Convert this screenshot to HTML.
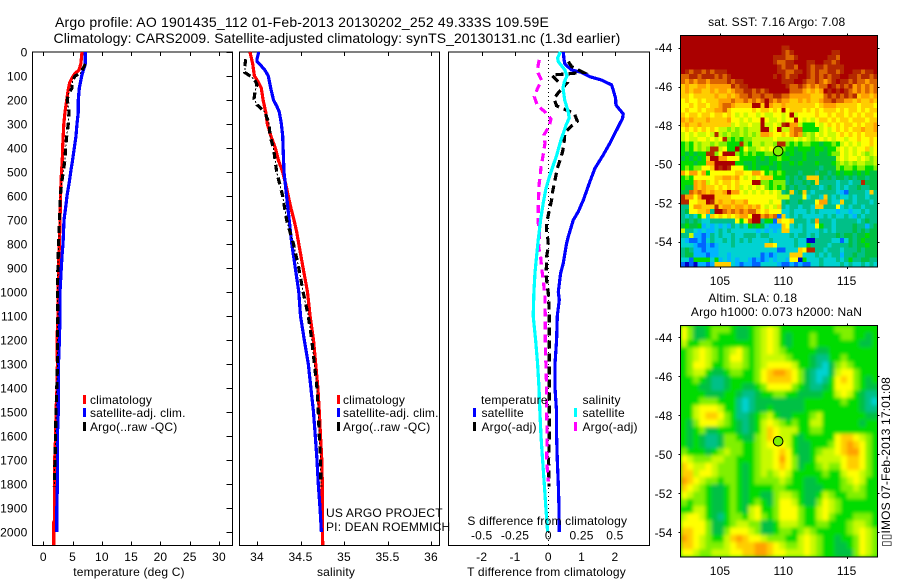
<!DOCTYPE html>
<html lang="en">
<head>
<meta charset="utf-8">
<title>Argo profile 1901435_112</title>
<style>
html,body{margin:0;padding:0;background:#fff;width:900px;height:580px;overflow:hidden}
svg{display:block;font-family:"Liberation Sans",sans-serif}
text{fill:#000;letter-spacing:.18px}
</style>
</head>
<body>
<svg id="chart" xmlns="http://www.w3.org/2000/svg" width="900" height="580" viewBox="0 0 900 580">
  <defs>
    <clipPath id="clip-sst"><rect x="680.5" y="35.5" width="197" height="231.5"/></clipPath>
    <clipPath id="clip-sla"><rect x="680.5" y="325.5" width="197" height="231.5"/></clipPath>
    <filter id="soften" x="-5%" y="-5%" width="110%" height="110%"><feGaussianBlur stdDeviation="1.8"/></filter>
  </defs>
  <text x="55" y="27" font-size="14" textLength="494">Argo profile: AO 1901435_112 01-Feb-2013 20130202_252 49.333S 109.59E</text>
  <text x="53.5" y="43" font-size="14" textLength="567">Climatology: CARS2009. Satellite-adjusted climatology: synTS_20130131.nc (1.3d earlier)</text>
  <g id="layer-sst" clip-path="url(#clip-sst)"></g>
  <g clip-path="url(#clip-sla)">
    <rect x="680" y="325" width="198" height="232" fill="#00d800"/>
    <g id="layer-sla" filter="url(#soften)"></g>
  </g>
  <g id="layer-axes"></g>
  <g id="layer-lines"></g>
  <g id="layer-text"></g>
</svg>
<script>
// ---- tick values ----
var depthTicks = [0,100,200,300,400,500,600,700,800,900,1000,1100,1200,1300,1400,1500,1600,1700,1800,1900,2000];
var tempTicks = [0,5,10,15,20,25,30];
var salTicks = [34,34.5,35,35.5,36];
var salTickLabels = ['34','34.5','35','35.5','36'];
var tDiffTicks = [-2,-1,0,1,2];
var sDiffTicks = [-0.5,-0.25,0,0.25,0.5];
var sDiffTickLabels = ['-0.5','-0.25','0','0.25','0.5'];
var lonTicks = [105,110,115];
var latTicks = [-44,-46,-48,-50,-52,-54];

// ---- temperature panel ----
var tempClimDepth = [0,50,75,90,100,125,150,175,200,250,300,350,400,450,500,550,600,700,800,900,1000,1100,1200,1300,1400,1500,1600,1700,1800,1950,1960,2054];
var tempClimVal = [6.6,6.4,6.1,5.4,5.1,4.55,4.3,4.15,4.0,3.7,3.5,3.4,3.3,3.25,3.1,3.0,2.95,2.85,2.75,2.6,2.56,2.5,2.34,2.4,2.34,2.17,2.1,1.94,1.94,1.94,1.77,1.77];
var tempSatDepth = [0,50,75,100,150,200,250,300,350,400,450,500,550,600,650,700,800,850,900,1000,1100,1200,1300,1400,1500,1600,1700,1800,1900,2000];
var tempSatVal = [7.17,7.17,6.84,6.55,6.15,5.98,5.98,5.75,5.58,5.3,5.0,4.68,4.39,4.05,3.8,3.53,3.36,3.2,3.07,2.85,2.85,2.75,2.6,2.56,2.56,2.4,2.4,2.4,2.3,2.3];
var tempArgoDepth = [50,90,100,125,150,175,200,250,300,350,400,450,500,550,600,700,800,900,1000,1100,1200,1300,1400,1500,1600,1700,1810];
var tempArgoVal = [7.17,6.3,5.4,4.95,4.9,4.27,4.1,4.39,4.27,4.0,3.8,3.68,3.4,3.1,2.9,2.75,2.6,2.5,2.4,2.5,2.4,2.4,2.3,2.17,2.1,2.0,1.87];

// ---- salinity panel ----
var salClimDepth = [0,50,100,125,150,200,250,300,350,400,450,500,550,600,650,700,750,800,900,1000,1100,1200,1300,1400,1500,1600,1700,1800,1900,2054];
var salClimVal = [33.92,33.95,33.97,34.015,34.05,34.07,34.1,34.12,34.16,34.21,34.245,34.295,34.33,34.36,34.39,34.425,34.456,34.48,34.53,34.58,34.61,34.65,34.675,34.7,34.716,34.73,34.745,34.75,34.75,34.755];
var salSatDepth = [0,30,40,50,75,100,150,200,225,250,300,350,400,500,600,700,800,900,1000,1100,1200,1300,1400,1500,1600,1700,1800,1900,2000];
var salSatVal = [34.02,34.0,34.0,34.03,34.09,34.13,34.157,34.19,34.226,34.256,34.28,34.295,34.3,34.31,34.34,34.37,34.4,34.44,34.48,34.5,34.544,34.59,34.62,34.65,34.67,34.69,34.705,34.724,34.74];
var salArgoDepth = [30,60,85,100,115,135,160,195,220,250,300,350,400,500,600,700,800,900,1000,1100,1200,1300,1400,1500,1600,1700,1810];
var salArgoVal = [33.87,33.86,33.86,33.92,33.97,34.0,33.98,33.965,34.0,34.09,34.14,34.15,34.19,34.226,34.295,34.34,34.42,34.48,34.53,34.59,34.63,34.66,34.69,34.705,34.716,34.73,34.735];

// ---- difference panel ----
var dtSatDepth = [0,30,50,75,85,103,117,137,158,193,221,258,276,325,380,429,485,540,617,665,700,769,797,880,922,1000,1033,1100,1200,1300,1400,1500,1600,1700,1800,1900,2000];
var dtSatVal = [0.45,0.47,0.5,0.7,1.0,1.25,1.6,1.9,1.95,2.02,2.03,2.25,2.23,2.05,1.85,1.65,1.4,1.25,1.05,0.9,0.75,0.6,0.55,0.45,0.37,0.3,0.33,0.27,0.25,0.2,0.2,0.25,0.25,0.27,0.3,0.32,0.33];
var dtArgoDepth = [40,61,85,92,96,124,131,165,193,224,242,256,288,314,336,381,415,450,485,513,547,582,617,658,679,714,749,783,811,853,881,922,950,985,1006,1061,1100,1300,1500,1600,1700,1810];
var dtArgoVal = [0.6,0.7,1.05,0.5,0.1,0.3,0.55,0.33,0.17,0.25,0.55,0.78,0.87,0.65,0.5,0.47,0.43,0.35,0.27,0.23,0.18,0.13,0.1,0.03,0,-0.05,-0.05,-0.01,0,-0.05,-0.05,-0.07,-0.05,-0.02,0,0.02,0.03,0.03,0.03,0.03,0.01,0.02];
var dsSatDepth = [0,25,40,75,100,125,150,200,250,275,300,330,370,430,470,520,570,630,700,780,850,920,1000,1100,1200,1300,1400,1500,1600,1700,1800,1900,2000];
var dsSatVal = [0.09,0.07,0.075,0.125,0.14,0.12,0.11,0.123,0.15,0.157,0.137,0.118,0.093,0.063,0.038,0.008,-0.018,-0.038,-0.058,-0.075,-0.088,-0.1,-0.108,-0.113,-0.095,-0.08,-0.07,-0.063,-0.055,-0.043,-0.03,-0.018,-0.005];
var dsArgoDepth = [33,68,89,117,151,186,221,251,279,311,346,381,408,443,478,513,547,603,644,714,769,811,853,908,950,1019,1100,1200,1300,1400,1500,1600,1700,1790];
var dsArgoVal = [-0.068,-0.08,-0.075,-0.05,-0.08,-0.105,-0.083,-0.023,0.02,0.005,-0.033,-0.025,-0.033,-0.043,-0.055,-0.06,-0.068,-0.073,-0.075,-0.075,-0.065,-0.073,-0.058,-0.048,-0.038,-0.025,-0.023,-0.023,-0.018,-0.013,-0.013,-0.008,-0.013,0];

// ---- marker position (lon, lat) ----
var argoLon = [109.59];
var argoLat = [-49.33];
var argoLevel = [7];

// ---- SST map: colour level per grid cell, north to south ----
var sstRows = [
[14,14,14,14,14,14,14,14,14,14, 14,14,14,14,14,14,14,14,14,14, 14,14,14,14,14,14,14,14,14,14, 14,14,14,14,14,14,14,14,14,14, 14,14,14,14,14,14,14],
[14,14,14,14,14,14,14,14,14,14, 14,14,14,14,14,14,14,14,14,14, 14,14,14,14,14,14,14,14,14,14, 14,14,14,14,14,14,14,14,14,14, 14,14,14,14,14,14,14],
[14,14,14,14,14,14,14,14,14,14, 14,14,14,14,14,14,14,14,14,14, 14,14,14,14,13,13,14,14,14,14, 14,14,14,14,14,14,14,14,14,14, 14,14,14,14,14,14,14],
[14,14,14,14,14,14,14,14,14,14, 14,14,14,14,14,14,14,14,14,14, 14,14,14,14,13,12,13,14,14,14, 14,14,14,14,14,14,13,13,14,14, 14,14,14,14,14,14,14],
[14,14,14,14,14,14,14,14,14,14, 14,14,14,14,14,14,14,14,14,14, 14,14,13,13,13,12,12,13,14,14, 14,14,14,14,14,13,13,12,14,14, 14,14,14,14,14,14,14],
[14,14,14,14,14,14,14,14,14,14, 14,14,14,14,14,14,14,14,14,14, 14,14,13,12,12,13,13,14,14,14, 13,13,14,14,13,13,12,13,14,14, 14,14,14,14,14,14,14],
[14,14,14,14,14,14,14,14,14,14, 14,14,14,14,14,14,14,14,14,14, 14,14,14,13,12,13,13,12,14,14, 13,12,13,13,12,13,13,13,13,14, 14,14,14,14,14,14,14],
[14,13,12,13,13,12,13,12,13,13, 13,14,14,14,14,14,14,14,14,14, 14,14,14,13,13,12,12,13,13,14, 13,12,13,12,12,13,13,12,13,14, 14,13,13,12,13,13,14],
[12,12,13,13,12,13,13,13,12,13, 12,13,14,14,14,14,14,14,14,14, 14,14,13,14,13,12,13,13,14,14, 13,12,13,12,13,12,13,13,14,14, 13,13,12,13,13,12,13],
[12,11,12,11,12,12,11,12,12,12, 12,13,12,13,13,14,14,14,14,14, 14,14,14,14,13,13,13,14,14,13, 12,12,13,12,11,12,13,14,13,13, 12,13,12,12,11,12,12],
[10,11,10,10,11,11,10,11,11,11, 11,11,13,12,13,13,14,14,14,14, 14,14,14,14,14,13,12,12,13,12, 11,12,11,12,12,14,13,12,13,12, 13,11,12,11,12,11,12],
[10,11,10,11,11,10,10,11,10,11, 11,10,11,12,12,13,13,12,13,12, 13,14,14,14,14,14,12,12,12,11, 10,11,10,11,14,13,14,13,14,13, 12,11,12,11,12,11,12],
[10,10,9,10,10,10,10,10,11,10, 10,11,10,11,12,12,13,12,12,13, 12,12,13,13,12,12,11,11,11,11, 11,10,10,10,12,13,12,13,12,13, 12,13,10,11,11,10,11],
[9,10,9,9,10,9,10,10,10,11, 11,11,12,11,11,12,11,12,11,12, 14,12,11,12,11,11,10,10,11,10, 11,10,10,11,12,12,13,12,12,11, 11,10,11,10,10,11,10],
[9,9,10,9,10,10,9,10,10,11, 12,12,11,10,10,10,10,14,14,10, 14,11,10,10,11,10,10,10,10,10, 10,10,9,10,11,11,11,10,10,10, 10,10,9,10,10,10,9],
[9,10,9,9,10,9,10,10,11,11, 12,10,9,9,9,9,9,10,9,10, 10,9,10,9,14,9,10,10,10,9, 10,9,10,9,10,10,10,9,10,9, 10,10,9,10,9,10,10],
[10,9,10,10,9,10,10,9,10,10, 9,10,9,8,9,8,9,9,8,9, 8,8,9,9,8,9,14,8,9,9, 9,9,10,9,9,10,9,10,10,9, 10,9,10,9,10,10,9],
[11,10,11,10,10,10,11,10,10,10, 10,11,9,9,8,9,8,9,9,14, 9,8,8,9,8,9,9,14,9,8, 9,8,9,10,10,9,10,9,10,10, 9,10,10,10,9,10,10],
[10,11,10,10,11,10,10,10,10,10, 10,10,8,9,8,8,9,8,8,14, 8,8,9,8,13,14,11,11,8,6, 6,6,9,8,9,10,9,10,9,10, 10,9,10,9,10,10,11],
[9,10,9,10,9,10,9,10,9,8, 8,7,8,7,8,7,8,8,8,14, 14,8,9,14,8,8,11,12,12,6, 6,6,6,8,9,8,9,10,9,10, 9,10,10,11,10,10,11],
[8,9,8,9,8,8,9,8,13,8, 7,8,7,7,8,7,8,7,8,11, 11,10,9,9,10,9,11,12,11,7, 8,7,9,8,9,8,8,9,10,9, 10,9,10,9,10,10,10],
[8,9,8,8,9,9,8,9,8,9, 13,7,6,7,6,7,7,8,8,8, 8,8,9,8,8,8,8,9,8,9, 8,7,8,9,8,9,8,9,9,8, 9,9,10,9,9,10,9],
[6,7,6,8,7,8,8,7,8,7, 7,6,6,6,13,7,6,8,8,7, 8,8,7,13,13,7,6,7,6,7, 7,6,6,5,6,6,7,6,8,9, 8,9,8,9,9,10,9],
[6,7,6,8,7,8,7,13,13,8, 9,6,6,14,6,9,7,7,8,9, 8,9,8,8,7,6,6,5,6,6, 6,5,6,6,5,6,6,8,9,8, 9,8,9,9,10,8,9],
[6,5,6,5,6,6,13,13,7,9, 14,14,14,7,6,7,6,7,6,6, 7,7,6,7,6,5,6,5,5,6, 5,5,6,5,5,6,7,7,9,8, 9,8,9,8,7,8,9],
[5,6,5,6,5,6,10,14,14,11, 11,9,9,9,6,6,6,6,5,6, 5,6,6,7,6,6,5,5,5,6, 5,5,5,5,5,5,5,8,9,8, 9,9,8,9,8,7,8],
[6,6,6,5,6,6,11,11,14,14, 14,14,14,6,6,5,5,6,5,5, 5,6,5,6,5,5,6,5,6,5, 5,5,6,5,5,5,6,7,8,7, 8,7,8,8,7,7,8],
[6,7,6,7,7,9,9,10,14,13, 14,13,9,9,9,6,5,6,5,6, 6,5,5,6,5,5,5,5,5,5, 5,5,5,4,5,5,5,7,6,7, 7,6,7,7,6,6,7],
[11,9,11,11,9,11,6,9,9,9, 9,9,9,10,10,9,9,11,11,9, 6,7,6,7,6,5,5,5,4,5, 5,5,4,5,5,4,5,6,5,6, 6,5,6,5,6,5,5],
[6,7,6,9,9,9,9,9,10,10, 11,11,10,11,9,8,9,8,9,10, 10,10,6,6,6,4,5,4,5,4, 10,10,10,5,4,5,4,5,5,4, 5,4,5,5,4,5,5],
[6,6,6,11,10,11,8,9,10,9, 10,10,9,10,9,9,9,14,14,7, 7,6,7,7,7,4,5,4,4,5, 4,5,10,4,4,4,4,3,4,4, 3,4,4,13,5,5,5],
[6,5,5,11,10,11,10,10,9,10, 9,10,9,10,8,9,8,9,8,9, 7,6,7,6,7,5,4,5,4,4, 5,4,4,3,4,5,4,3,4,3, 4,4,5,4,4,5,5],
[5,5,12,11,12,11,10,11,10,10, 11,14,11,11,9,8,9,8,9,8, 9,8,9,8,4,5,10,4,5,10, 4,3,4,4,4,4,4,3,2,1, 4,4,4,4,3,10,4],
[13,11,11,9,11,14,14,14,10,10, 10,10,9,9,9,9,9,9,9,9, 9,9,9,8,8,8,4,4,4,9, 3,4,4,3,10,4,3,4,3,3, 4,3,4,4,3,4,4],
[13,13,9,9,10,10,14,13,10,11, 10,10,11,10,10,11,9,9,9,9, 9,8,9,9,4,5,4,4,5,4, 4,4,9,11,11,4,3,3,10,4, 4,3,4,4,4,3,4],
[4,4,9,11,11,10,10,10,13,10, 11,11,10,11,11,10,11,10,11,9, 8,9,8,10,4,3,4,4,3,4, 4,3,10,10,4,4,4,9,3,4, 3,4,4,3,4,4,4],
[4,5,9,9,10,10,11,4,14,14, 12,11,12,11,12,11,12,12,10,9, 10,9,9,9,3,3,4,3,3,3, 4,3,4,3,3,3,3,2,3,3, 2,3,3,4,3,4,4],
[4,3,4,3,6,9,3,10,9,10, 9,10,9,10,11,11,9,14,14,11, 12,11,12,1,10,3,4,3,4,3, 3,3,3,3,4,3,4,3,3,4, 3,2,4,3,4,4,4],
[4,5,4,5,4,3,3,4,4,4, 4,4,4,9,6,9,12,14,14,4, 6,6,1,10,9,9,10,4,4,4, 3,4,11,4,4,4,3,4,4,4, 4,4,3,4,5,4,4],
[5,6,5,5,6,2,3,2,3,2, 3,2,4,3,4,3,6,5,6,5, 3,2,2,2,10,9,3,4,3,4, 3,3,9,6,4,4,3,4,4,4, 4,5,4,4,2,4,5],
[8,4,4,3,2,3,2,2,3,4, 3,4,3,3,3,3,3,3,2,3, 2,3,2,3,10,10,3,3,3,4, 3,3,3,4,3,4,3,4,4,4, 4,5,4,5,4,5,5],
[4,4,8,2,2,1,2,4,3,4, 3,3,4,3,3,4,4,4,3,4, 4,3,3,3,3,3,4,3,4,4, 3,4,3,4,4,4,4,5,4,5, 5,4,5,5,6,5,5],
[3,2,1,1,2,1,3,4,3,3, 4,3,4,3,4,3,4,3,3,3, 3,4,3,3,3,3,3,4,3,3, 0,0,4,4,4,4,3,3,1,3, 5,4,5,6,5,5,5],
[3,3,3,2,1,1,2,1,2,3, 3,3,4,3,3,3,3,3,3,3, 10,10,9,3,3,3,3,4,3,3, 6,4,4,4,4,3,4,4,4,4, 5,4,5,5,6,5,5],
[4,5,4,2,2,1,2,2,2,3, 3,3,3,3,3,3,3,3,3,3, 3,3,3,1,1,3,3,3,10,9, 13,13,4,4,3,4,4,4,3,4, 4,4,5,4,5,5,5],
[4,5,5,2,2,2,1,2,2,3, 3,2,3,3,3,3,3,3,3,1, 2,1,2,3,3,3,10,10,10,3, 3,3,4,3,4,3,4,4,2,4, 4,5,4,4,5,5,5],
[3,3,1,6,6,6,6,3,6,2, 3,2,3,2,3,3,2,1,2,1, 2,3,2,3,3,2,9,9,0,6, 3,3,3,4,3,3,3,4,3,4, 6,4,4,5,5,4,4],
[1,0,1,0,2,2,1,2,10,10, 10,10,3,2,1,2,2,1,1,3, 3,3,3,2,1,1,2,1,2,1, 1,3,3,4,3,3,3,3,4,3, 4,3,3,4,3,4,3]
];

// ---- SLA map: colour level per grid cell, north to south ----
var slaRows = [
[9,7,5,5,6,7,7,7,6,5,5,6,7,8,9,8,6,6,6,6,6,6,6,6,6,7,7,7,6,6,6,6],
[9,7,5,5,6,7,6,6,6,5,5,6,7,8,9,8,6,5,6,6,6,7,6,6,6,6,7,7,6,6,5,6],
[8,6,6,7,7,6,6,6,6,6,6,6,7,8,9,8,6,5,6,6,6,7,6,6,6,6,6,6,6,5,5,6],
[6,7,8,9,8,7,6,7,8,9,7,6,7,8,9,8,7,6,6,6,6,6,5,5,6,6,6,6,6,6,6,6],
[6,7,8,9,8,7,6,7,9,9,7,6,7,8,8,8,8,7,6,6,6,5,4,4,6,6,7,6,6,6,6,6],
[6,7,9,9,8,6,6,7,8,8,7,6,7,8,9,9,9,9,8,6,6,5,4,3,5,7,8,7,6,6,6,6],
[6,7,8,8,6,5,5,6,7,7,6,6,7,9,10,11,11,10,9,7,5,4,3,3,5,8,9,9,7,6,6,6],
[6,6,7,6,5,4,4,5,6,6,6,6,7,9,10,10,10,10,9,7,5,4,3,4,6,9,10,9,7,6,5,6],
[6,6,6,5,5,4,4,5,6,6,5,5,6,7,9,9,9,9,7,6,5,4,4,5,6,9,9,9,7,6,5,5],
[6,6,6,6,5,5,5,6,6,5,4,4,5,6,6,7,7,6,6,5,5,5,5,6,6,8,9,8,6,5,4,4],
[6,6,6,7,7,7,6,6,6,4,3,4,5,5,5,5,5,5,5,5,6,6,6,6,6,6,7,6,6,5,4,3],
[6,6,8,9,9,9,8,6,6,4,3,4,5,5,6,5,5,5,5,5,6,6,6,6,6,6,6,6,6,5,4,4],
[6,6,8,9,10,10,9,7,6,4,4,5,6,7,8,6,5,5,6,6,6,7,8,6,6,6,6,6,6,6,5,5],
[6,5,7,9,9,9,8,7,6,5,4,5,6,8,9,8,7,6,7,6,6,8,8,6,6,6,6,6,6,5,6,6],
[6,5,6,7,5,5,6,6,6,5,4,5,6,8,10,9,8,8,8,6,6,7,7,6,6,6,6,6,6,6,6,6],
[6,5,6,5,4,4,5,7,7,6,5,5,7,8,10,9,8,8,6,5,6,6,6,6,6,9,10,10,9,8,7,6],
[6,5,6,5,4,4,5,7,7,7,6,6,7,8,9,9,9,8,6,5,5,6,6,6,7,9,10,11,10,9,7,6],
[7,6,6,6,5,6,7,8,7,7,6,6,7,8,8,9,10,9,6,5,5,6,7,8,8,9,10,11,11,9,7,6],
[9,8,7,7,7,8,8,7,7,6,6,6,7,8,8,9,11,9,7,5,5,6,8,8,8,8,9,10,10,9,7,6],
[10,9,8,8,9,8,7,7,7,6,5,6,7,8,8,9,10,9,7,5,6,6,7,8,7,7,9,10,10,9,7,6],
[10,10,8,9,9,8,7,7,7,6,5,6,7,8,7,8,9,8,6,6,6,6,6,7,6,6,8,9,9,8,7,6],
[11,10,9,8,7,7,6,7,7,6,5,6,7,7,7,7,8,7,6,6,5,5,6,6,6,6,7,8,9,8,6,6],
[10,9,8,7,6,5,5,6,7,6,5,6,6,6,6,7,7,6,6,6,5,5,5,6,6,6,7,7,8,7,6,6],
[9,8,7,7,6,5,5,6,7,6,5,6,6,5,5,7,8,8,7,6,5,5,6,8,7,6,6,7,7,7,6,6],
[7,6,7,7,6,5,5,6,7,6,5,6,7,6,5,7,9,9,8,6,5,5,7,9,8,7,6,6,6,6,6,6],
[6,6,8,8,6,5,5,6,7,6,5,8,9,6,6,7,9,9,9,7,6,6,8,9,8,7,6,6,6,6,6,6],
[8,9,9,8,6,5,4,6,7,7,6,8,9,7,6,7,9,9,9,7,6,6,8,9,7,6,6,6,7,7,7,6],
[9,9,9,9,7,5,5,6,7,8,8,7,7,5,5,6,8,8,8,7,6,6,7,7,6,6,6,7,8,8,7,6],
[10,10,9,9,7,5,5,7,9,9,9,8,7,5,5,6,7,7,6,7,8,7,6,6,6,6,6,7,8,9,8,7],
[11,10,9,8,7,6,6,8,10,11,10,9,9,8,7,7,7,6,6,8,9,8,7,6,6,5,6,6,7,9,8,7],
[10,10,9,8,7,7,7,8,9,10,10,10,11,11,10,9,8,7,7,8,9,8,7,6,6,5,5,6,7,9,8,7],
[9,9,8,7,7,8,8,8,9,9,10,10,11,11,10,9,9,8,8,8,9,8,7,6,6,5,5,5,7,9,8,7]
];

// ---- colour levels ----
var levelColors = ['#0000c8','#0064ff','#00b4ff','#00d2d2','#00c088','#00c044','#00dc00','#80f000','#c8fa00','#ffff00','#ffcd00','#ffa000','#dc6400','#b42800','#aa0000'];

var NS = 'http://www.w3.org/2000/svg';
var layerAxes = document.getElementById('layer-axes');
var layerLines = document.getElementById('layer-lines');
var layerText = document.getElementById('layer-text');
var layerSst = document.getElementById('layer-sst');
var layerSla = document.getElementById('layer-sla');

// ---- axis functions ----
function yDepth(d){ return 52 + d * 0.24; }
function xTemp(v){ return 43.3 + v * 5.857; }
function xSal(v){ return 257 + (v - 34) * 87; }
function xDT(v){ return 548.3 + v * 33.3; }
function xDS(v){ return 548.3 + v * 133.2; }
function xLon(v){ return 720 + (v - 105) * 12.67; }
function ySstLat(v){ return 47.7 - (v + 44) * 19.4; }
function ySlaLat(v){ return 337.3 - (v + 44) * 19.5; }

function makeText(str, x, y, anchor, size){
  var t = document.createElementNS(NS, 'text');
  t.setAttribute('x', x);
  t.setAttribute('y', y);
  t.setAttribute('text-anchor', anchor || 'start');
  t.setAttribute('font-size', size || 12);
  t.textContent = str;
  layerText.appendChild(t);
  return t;
}
function makeLine(x1, y1, x2, y2){
  var l = document.createElementNS(NS, 'line');
  l.setAttribute('x1', x1);
  l.setAttribute('y1', y1);
  l.setAttribute('x2', x2);
  l.setAttribute('y2', y2);
  l.setAttribute('stroke', '#000');
  l.setAttribute('stroke-width', 1);
  l.setAttribute('shape-rendering', 'crispEdges');
  layerAxes.appendChild(l);
  return l;
}
function makeBox(x, y, w, h){
  var r = document.createElementNS(NS, 'rect');
  r.setAttribute('x', x);
  r.setAttribute('y', y);
  r.setAttribute('width', w);
  r.setAttribute('height', h);
  r.setAttribute('fill', 'none');
  r.setAttribute('stroke', '#000');
  r.setAttribute('stroke-width', 1);
  r.setAttribute('shape-rendering', 'crispEdges');
  layerAxes.appendChild(r);
  return r;
}
function makeSeries(xs, ds, xFn, color, width, dash){
  var pts = [];
  for (var i = 0; i < xs.length; i++) { pts.push(xFn(xs[i]).toFixed(1) + ',' + yDepth(ds[i]).toFixed(1)); }
  var p = document.createElementNS(NS, 'polyline');
  p.setAttribute('points', pts.join(' '));
  p.setAttribute('fill', 'none');
  p.setAttribute('stroke', color);
  p.setAttribute('stroke-width', width);
  p.setAttribute('shape-rendering', 'crispEdges');
  if (dash) { p.setAttribute('stroke-dasharray', dash); }
  layerLines.appendChild(p);
  return p;
}
function makeBar(x, y, h, color){
  var r = document.createElementNS(NS, 'rect');
  r.setAttribute('x', x);
  r.setAttribute('y', y);
  r.setAttribute('width', 3);
  r.setAttribute('height', h);
  r.setAttribute('fill', color);
  layerLines.appendChild(r);
  return r;
}

// ---- panel frames ----
var el;
el = makeBox(32.5, 52, 200, 493.5);


el = makeBox(239.5, 52, 200, 493.5);


el = makeBox(448.5, 52, 201, 493.5);



// ---- depth axis ----
depthTicks.forEach(function(d){
  var y = Math.round(yDepth(d)) + 0.5;
  var tick = makeLine(226.5, y, 232.5, y);
  
  
  var lab = makeText(String(d), 27.5, yDepth(d) + 4.5, 'end');
  
  
});

// ---- temperature axis ----
tempTicks.forEach(function(v){
  var x = Math.round(xTemp(v)) + 0.5;
  var t1 = makeLine(x, 52, x, 56);
  
  
  var t2 = makeLine(x, 541.5, x, 545.5);
  
  
  var lab = makeText(String(v), xTemp(v), 561, 'middle');
  
  
});
el = makeText('temperature (deg C)', 129, 576, 'middle');



// ---- salinity axis ----
salTicks.forEach(function(v, i){
  var x = Math.round(xSal(v)) + 0.5;
  var t1 = makeLine(x, 52, x, 56);
  
  
  var t2 = makeLine(x, 541.5, x, 545.5);
  
  
  var lab = makeText(salTickLabels[i], xSal(v), 561, 'middle');
  
  
});
el = makeText('salinity', 336, 576, 'middle');



// ---- difference axes ----
tDiffTicks.forEach(function(v){
  var x = Math.round(xDT(v)) + 0.5;
  var t1 = makeLine(x, 52, x, 56);
  
  
  var lab = makeText(String(v), xDT(v), 561, 'middle');
  
  
});
sDiffTicks.forEach(function(v, i){
  var lab = makeText(sDiffTickLabels[i], xDS(v), 539.5, 'middle');
  
  
});
el = makeText('S difference from climatology', 547.3, 525, 'middle');


el = makeText('T difference from climatology', 546.5, 576, 'middle');



// ---- zero reference ----
el = makeLine(548.5, 52, 548.5, 545);
el.setAttribute('stroke-dasharray', '1 3');



// ---- profile series ----
var lineWidth = 3.2;
var thickDash = '7 6';
var thinDot = '0 9 2 2';
var dashed = '8 5';
el = makeSeries(tempClimVal, tempClimDepth, xTemp, '#ff0000', lineWidth);


el = makeSeries(tempSatVal, tempSatDepth, xTemp, '#0000ff', lineWidth);


el = makeSeries(tempArgoVal, tempArgoDepth, xTemp, '#000000', lineWidth, thickDash);


el = makeSeries(tempArgoVal, tempArgoDepth, xTemp, '#000000', 1, thinDot);



el = makeSeries(salClimVal, salClimDepth, xSal, '#ff0000', lineWidth);


el = makeSeries(salSatVal, salSatDepth, xSal, '#0000ff', lineWidth);


el = makeSeries(salArgoVal, salArgoDepth, xSal, '#000000', lineWidth, thickDash);


el = makeSeries(salArgoVal, salArgoDepth, xSal, '#000000', 1, thinDot);



el = makeSeries(dtSatVal, dtSatDepth, xDT, '#0000ff', lineWidth);


el = makeSeries(dtArgoVal, dtArgoDepth, xDT, '#000000', lineWidth, dashed);


el = makeSeries(dsArgoVal, dsArgoDepth, xDS, '#ff00ff', lineWidth, dashed);


el = makeSeries(dsSatVal, dsSatDepth, xDS, '#00ffff', lineWidth);



// ---- legends ----
function legendRow(barX, textX, y, color, label, name){
  var b = makeBar(barX, y - 9, 9, color);
  
  
  var t = makeText(label, textX, y);
  
  
}
legendRow(83, 90, 404, '#ff0000', 'climatology', 'temperature-legend-climatology');
legendRow(83, 90, 417, '#0000ff', 'satellite-adj. clim.', 'temperature-legend-satellite');
legendRow(83, 90, 431, '#000000', 'Argo(..raw -QC)', 'temperature-legend-argo');
legendRow(337, 343, 404, '#ff0000', 'climatology', 'salinity-legend-climatology');
legendRow(337, 343, 417, '#0000ff', 'satellite-adj. clim.', 'salinity-legend-satellite');
legendRow(337, 343, 431, '#000000', 'Argo(..raw -QC)', 'salinity-legend-argo');
el = makeText('temperature', 481, 404);


el = makeText('salinity', 582.5, 404);


legendRow(473, 481.5, 417, '#0000ff', 'satellite', 'difference-legend-t-satellite');
legendRow(473, 481.5, 431, '#000000', 'Argo(-adj)', 'difference-legend-t-argo');
legendRow(574, 582.5, 417, '#00ffff', 'satellite', 'difference-legend-s-satellite');
legendRow(574, 582.5, 431, '#ff00ff', 'Argo(-adj)', 'difference-legend-s-argo');

el = makeText('US ARGO PROJECT', 326, 517);


el = makeText('PI: DEAN ROEMMICH', 326, 531);



// ---- SST map cells ----
var sstLon0 = 101.9, sstDLon = 0.3309, sstLat0 = -43.38, sstDLat = 0.2483;
sstRows.forEach(function(row, r){
  row.forEach(function(level, c){
    var x0 = xLon(sstLon0 + c * sstDLon), x1 = xLon(sstLon0 + (c + 1) * sstDLon);
    var y0 = ySstLat(sstLat0 - r * sstDLat), y1 = ySstLat(sstLat0 - (r + 1) * sstDLat);
    var cell = document.createElementNS(NS, 'rect');
    cell.setAttribute('x', x0.toFixed(2));
    cell.setAttribute('y', y0.toFixed(2));
    cell.setAttribute('width', (x1 - x0 + 0.4).toFixed(2));
    cell.setAttribute('height', (y1 - y0 + 0.4).toFixed(2));
    cell.setAttribute('fill', levelColors[level]);
    cell.setAttribute('shape-rendering', 'crispEdges');
    
    
    layerSst.appendChild(cell);
  });
});

// ---- SLA map cells ----
var slaLon0 = 101.9, slaDLon = 0.486, slaLat0 = -43.4, slaDLat = 0.370;
slaRows.forEach(function(row, r){
  row.forEach(function(level, c){
    var x0 = xLon(slaLon0 + c * slaDLon), x1 = xLon(slaLon0 + (c + 1) * slaDLon);
    var y0 = ySlaLat(slaLat0 - r * slaDLat), y1 = ySlaLat(slaLat0 - (r + 1) * slaDLat);
    var cell = document.createElementNS(NS, 'rect');
    cell.setAttribute('x', x0.toFixed(2));
    cell.setAttribute('y', y0.toFixed(2));
    cell.setAttribute('width', (x1 - x0 + 0.4).toFixed(2));
    cell.setAttribute('height', (y1 - y0 + 0.4).toFixed(2));
    cell.setAttribute('fill', levelColors[level]);
    
    
    layerSla.appendChild(cell);
  });
});

// ---- map frames, ticks, labels ----
el = makeBox(680.5, 35.5, 197, 231.5);


el = makeBox(680.5, 325.5, 197, 231.5);



lonTicks.forEach(function(v){
  var x = Math.round(xLon(v)) + 0.5;
  var a = makeLine(x, 33.5, x, 35.5);
  
  
  var b = makeLine(x, 267, x, 269);
  
  
  var c = makeLine(x, 323.5, x, 325.5);
  
  
  var d = makeLine(x, 557, x, 559);
  
  
  var la = makeText(String(v), xLon(v), 285, 'middle');
  
  
  var lb = makeText(String(v), xLon(v), 575, 'middle');
  
  
});
latTicks.forEach(function(v){
  var y1 = Math.round(ySstLat(v)) + 0.5;
  var y2 = Math.round(ySlaLat(v)) + 0.5;
  var a = makeLine(678.5, y1, 680.5, y1);
  
  
  var b = makeLine(877.5, y1, 879.5, y1);
  
  
  var c = makeLine(678.5, y2, 680.5, y2);
  
  
  var d = makeLine(877.5, y2, 879.5, y2);
  
  
  var la = makeText(String(v), 672.5, ySstLat(v) + 4.5, 'end');
  
  
  var lb = makeText(String(v), 672.5, ySlaLat(v) + 4.5, 'end');
  
  
});

// ---- Argo markers ----
function makeMarker(x, y){
  var m = document.createElementNS(NS, 'circle');
  m.setAttribute('cx', x);
  m.setAttribute('cy', y);
  m.setAttribute('r', 4.8);
  m.setAttribute('fill', levelColors[argoLevel[0]]);
  m.setAttribute('stroke', '#000');
  m.setAttribute('stroke-width', 1);
  layerLines.appendChild(m);
  return m;
}
el = makeMarker(xLon(argoLon[0]), ySstLat(argoLat[0]));


el = makeMarker(xLon(argoLon[0]), ySlaLat(argoLat[0]));



// ---- map titles ----
el = makeText('sat. SST: 7.16 Argo: 7.08', 776.7, 26, 'middle');


el = makeText('Altim. SLA: 0.18', 752.8, 302, 'middle');


el = makeText('Argo h1000: 0.073 h2000: NaN', 776.5, 316, 'middle');



// ---- rotated timestamp ----
el = makeText('▯▯IMOS 07-Feb-2013 17:01:08', 0, 0, 'start');
el.setAttribute('transform', 'translate(890,547) rotate(-90)');
el.setAttribute('textLength', '170');


</script>
</body>
</html>
